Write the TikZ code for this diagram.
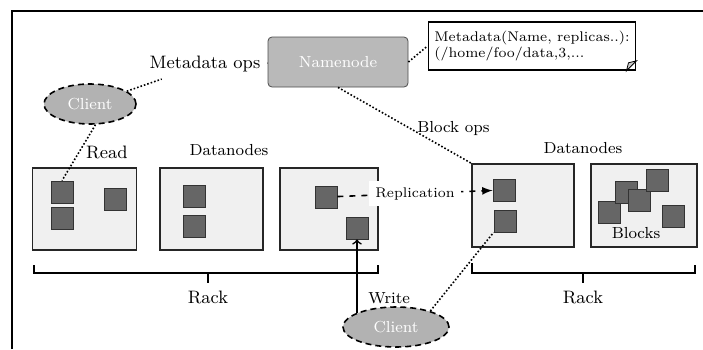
\documentclass[tikz,border=0pt]{standalone}
\usepackage{amsmath,amssymb}
\usepackage{tikz}
\usetikzlibrary{shapes.geometric, arrows, positioning, calc}

\begin{document}
\begin{tikzpicture}[
    x=0.5pt, y=-0.5pt,
    font=\footnotesize,
    namebox/.style={rectangle, draw=black!70, rounded corners=2pt, fill=gray!55, text=white, minimum width=70pt, minimum height=25pt},
    notebox/.style={rectangle, draw, thick, fill=white, minimum width=99pt, minimum height=24pt, align=left, font=\scriptsize, inner sep=3pt},
    clientnode/.style={ellipse, draw, densely dashed, thick, fill=gray!60, text=white, minimum width=46pt, minimum height=20pt, inner sep=1pt},
    databox/.style={rectangle, draw=black!85, thick, fill=gray!12, minimum width=52pt, minimum height=41pt},
    blocknode/.style={rectangle, draw=black!80, fill=black!60, minimum size=11pt, inner sep=0pt},
    ops/.style={densely dotted, thick},
    repl/.style={dashed, thick, -latex},
    arrow/.style={->, thick}
  ]
    \useasboundingbox (0,0) rectangle (703,349);
    \draw[line width=1pt] (12,349) -- (12,11) -- (703,11);

    % Namenode and metadata
    \node[namebox] (namenode) at (338,62) {Namenode};
    \node[notebox] (meta) at (532,46) {Metadata(Name, replicas..):\\(/home/foo/data,3,...};
    \draw[fill=gray!40] ([xshift=-5pt]meta.south east) -- ([yshift=5pt]meta.south east) -- ([shift={(-4pt,4pt)}]meta.south east) -- cycle;

    % Clients
    \node[clientnode] (client) at (90,104) {Client};
    \node[clientnode, minimum width=53pt] (host) at (396,327) {Client};

    % Datanodes, rack 1
    \node[databox] (r1a) at (84.5,209) {};
    \node[databox, minimum width=51.5pt] (r1b) at (211.5,209) {};
    \node[databox, minimum width=49pt] (r1c) at (329,209) {};
    \node (dn1) at (229,150) {Datanodes};

    % Datanodes, rack 2
    \node[databox, minimum width=51pt, minimum height=41.5pt] (r2a) at (523,205.5) {};
    \node[databox, minimum width=53pt, minimum height=41.5pt] (r2b) at (644,205.5) {};
    \node (dn2) at (583,148) {Datanodes};

    % Blocks
    \node[blocknode] (b11) at (62,192) {};
    \node[blocknode] (b12) at (62,218) {};
    \node[blocknode] (b13) at (115,199) {};
    \node[blocknode] (b21) at (194,196) {};
    \node[blocknode] (b22) at (194,226) {};
    \node[blocknode] (b31) at (326,197) {};
    \node[blocknode] (b32) at (357,228) {};
    \node[blocknode] (b41) at (504,190) {};
    \node[blocknode] (b42) at (505,221) {};
    \node[blocknode] (b51) at (609,212) {};
    \node[blocknode] (b52) at (626,192) {};
    \node[blocknode] (b53) at (639,200) {};
    \node[blocknode] (b54) at (657,180) {};
    \node[blocknode] (b55) at (673,216) {};
    \node (blocks) at (636,233) {Blocks};

    % Racks
    \draw[thick] (34,265) -- (34,273) -- (378,273) -- (378,265);
    \draw[thick] (208,273) -- (208,283);
    \node[font=\small] (rack1) at (208,297) {Rack};
    \draw[thick] (472,263) -- (472,273) -- (695,273) -- (695,265);
    \draw[thick] (583,273) -- (583,283);
    \node[font=\small] (rack2) at (583,297) {Rack};

    % Connections
    \draw[ops] (namenode.east) -- (meta.west);
    \node[font=\small] (mdops) at (205,64) {Metadata ops};
    \draw[ops] (client) -- (mdops) -- (namenode);
    \draw[ops] (client.285) -- node[right, font=\small] {Read} (b11.north);
    \draw[ops] (namenode.south) -- node[right, pos=0.54] {Block ops} (r2a.north west);
    \draw[repl] (b31) -- node[fill=white, font=\scriptsize] {Replication} (b41);
    \draw[arrow] (b32.south |- host.161) -- node[right=2pt, pos=0.2] {Write} (b32.south);
    \draw[ops] (host.25) -- (b42.south west);
  \end{tikzpicture}
\end{document}
